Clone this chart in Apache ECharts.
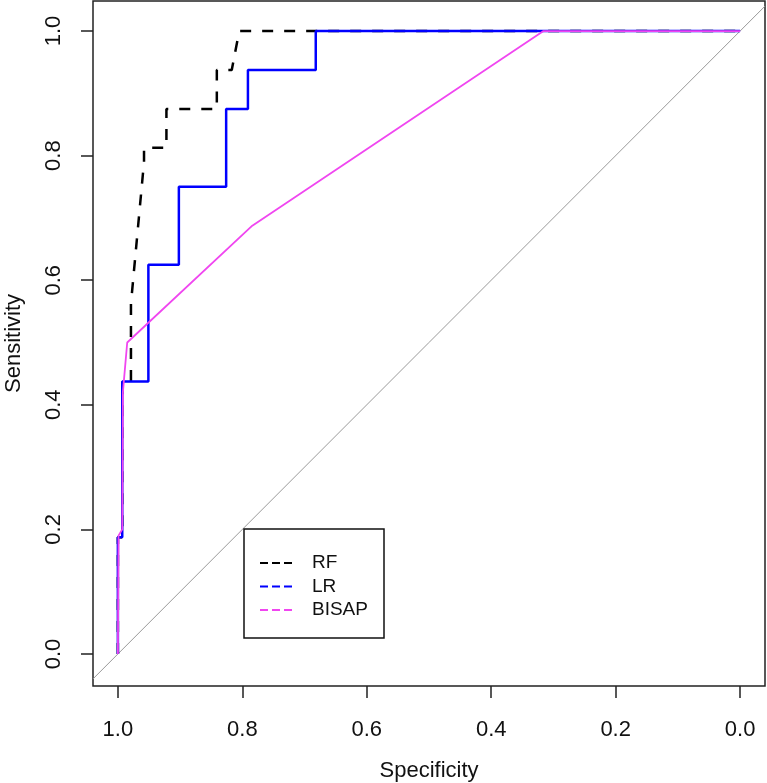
<!DOCTYPE html>
<html>
<head>
<meta charset="utf-8">
<script src="https://cdn.jsdelivr.net/npm/echarts@6/dist/echarts.min.js"></script>
<style>
html,body{margin:0;padding:0;background:#fff;}
#chart{width:767px;height:783px;}
</style>
</head>
<body>
<div id="chart"></div>
<script>
// ---- data (specificity, sensitivity) ----
const seriesNames = ['RF', 'LR', 'BISAP'];
const rfSpec = [1.000, 1.000, 0.993, 0.993, 0.979, 0.979, 0.958, 0.958, 0.922, 0.922, 0.841, 0.841, 0.817, 0.805, 0.000];
const rfSens = [0.000, 0.1875, 0.1875, 0.4375, 0.4375, 0.5625, 0.790, 0.8125, 0.8125, 0.875, 0.875, 0.9375, 0.9375, 1.000, 1.000];
const lrSpec = [1.000, 1.000, 0.993, 0.993, 0.951, 0.951, 0.902, 0.902, 0.826, 0.826, 0.791, 0.791, 0.682, 0.682, 0.000];
const lrSens = [0.000, 0.1875, 0.1875, 0.4375, 0.4375, 0.625, 0.625, 0.750, 0.750, 0.875, 0.875, 0.9375, 0.9375, 1.000, 1.000];
const bisapSpec = [1.000, 0.999, 0.993, 0.992, 0.985, 0.784, 0.316, 0.000];
const bisapSens = [0.000, 0.190, 0.200, 0.420, 0.500, 0.6875, 1.000, 1.000];
const diagSpec = [1.04, -0.04];
const diagSens = [-0.04, 1.04];
const xTicks = [1.0, 0.8, 0.6, 0.4, 0.2, 0.0];
const yTicks = [0.0, 0.2, 0.4, 0.6, 0.8, 1.0];

const zip = (a, b) => a.map((v, i) => [v, b[i]]);
const colors = ['#000000', '#0000FF', '#F046F0'];
const font = '"Liberation Sans", Arial, sans-serif';

const chart = echarts.init(document.getElementById('chart'));

// legend drawn as graphic elements (R-style boxed legend)
const legendX = 244, legendY = 529, legendW = 140, legendH = 109;
const rowY = [563, 586.5, 610];
const legendEls = [{
  type: 'rect', shape: {x: legendX, y: legendY, width: legendW, height: legendH},
  style: {fill: '#fff', stroke: '#111', lineWidth: 1.5}, z: 100
}];
seriesNames.forEach((n, i) => {
  legendEls.push({
    type: 'line', shape: {x1: 260, y1: rowY[i], x2: 292, y2: rowY[i]},
    style: {stroke: colors[i], lineWidth: 2, lineDash: [8, 4]}, z: 101
  });
  legendEls.push({
    type: 'text', x: 312, y: rowY[i],
    style: {text: n, font: '19px ' + font, fill: '#111', textVerticalAlign: 'middle', verticalAlign: 'middle'}, z: 101
  });
});

chart.setOption({
  animation: false,
  backgroundColor: '#fff',
  grid: {left: 93, top: 1, width: 672, height: 685, outerBoundsMode: 'none', containLabel: false,
         show: true, borderColor: '#222', borderWidth: 1.5, backgroundColor: 'transparent'},
  xAxis: {
    type: 'value', inverse: true, min: -0.04, max: 1.04,
    axisLine: {show: false, onZero: false},
    axisTick: {show: true, length: 12, customValues: xTicks, lineStyle: {color: '#222', width: 1.5}},
    axisLabel: {customValues: xTicks, formatter: v => v.toFixed(1), fontSize: 22, color: '#111', margin: 33, fontFamily: font},
    splitLine: {show: false},
    name: 'Specificity', nameLocation: 'middle', nameGap: 74,
    nameTextStyle: {fontSize: 22, color: '#111', fontFamily: font}
  },
  yAxis: {
    type: 'value', min: -0.0514, max: 1.0482,
    axisLine: {show: false, onZero: false},
    axisTick: {show: true, length: 12, customValues: yTicks, lineStyle: {color: '#222', width: 1.5}},
    axisLabel: {customValues: yTicks, formatter: v => v.toFixed(1), fontSize: 22, color: '#111', margin: 28, rotate: 90, fontFamily: font},
    splitLine: {show: false},
    name: 'Sensitivity', nameLocation: 'middle', nameGap: 68,
    nameTextStyle: {fontSize: 22, color: '#111', fontFamily: font}
  },
  series: [
    {type: 'line', name: 'diag', data: zip(diagSpec, diagSens), symbol: 'none', silent: true,
     lineStyle: {color: '#9a9a9a', width: 1}, z: 1},
    {type: 'line', name: seriesNames[0], data: zip(rfSpec, rfSens), symbol: 'none',
     lineStyle: {color: colors[0], width: 2.5, type: [11, 11]}, z: 2},
    {type: 'line', name: seriesNames[1], data: zip(lrSpec, lrSens), symbol: 'none',
     lineStyle: {color: colors[1], width: 2.5}, z: 3},
    {type: 'line', name: seriesNames[2], data: zip(bisapSpec, bisapSens), symbol: 'none',
     lineStyle: {color: colors[2], width: 1.8}, z: 4}
  ],
  graphic: {elements: legendEls}
});
</script>
</body>
</html>
